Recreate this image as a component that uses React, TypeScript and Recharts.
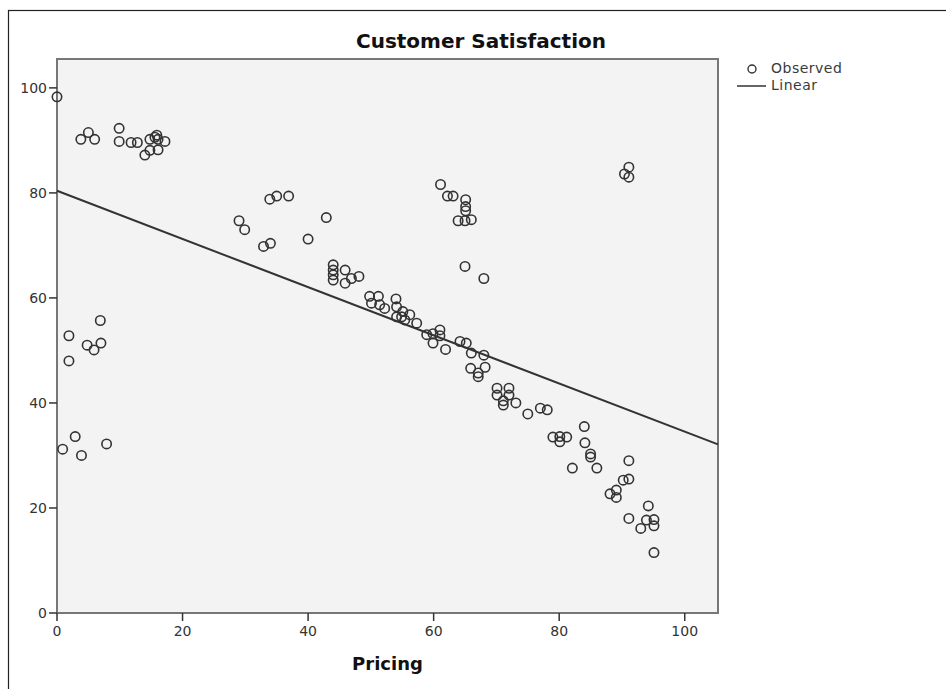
import { ScatterChart, Scatter, XAxis, YAxis, ReferenceArea, Legend, Label } from 'recharts';

const pricing = [
  0, 3.8, 5.0, 6.0, 9.9, 9.9, 11.8, 12.8, 14.0, 14.8, 16.1, 14.8, 15.9, 16.1, 17.2, 15.6,
  6.9, 1.9, 4.8, 7.0, 5.9, 1.9, 2.9, 0.9, 3.9, 7.9,
  29.0, 29.9, 33.9, 35.0, 36.9, 32.9, 34.0, 40.0, 42.9,
  44.0, 44.0, 44.0, 44.0, 45.9, 45.9, 46.9, 48.1,
  49.8, 51.2, 50.1, 51.4, 52.2, 54.0, 54.1, 55.1, 54.1, 54.9, 56.2, 55.4, 57.3,
  61.1, 62.2, 63.1, 65.1, 65.1, 65.1, 63.9, 65.0, 66.0, 65.0, 68.0,
  58.9, 59.9, 61.0, 59.9, 61.0, 61.9, 64.2, 65.2, 66.0, 68.0, 65.9, 67.1, 68.2, 67.1,
  70.1, 72.0, 70.1, 72.0, 71.1, 71.1, 73.1, 75.0, 77.0, 78.1, 84.0,
  79.0, 80.1, 81.2, 80.1, 84.1, 85.0, 85.0, 82.1, 86.0, 91.1, 90.2, 91.1, 88.1, 89.1, 89.1,
  94.2, 91.1, 93.0, 93.9, 95.1, 95.1, 95.1,
  90.4, 91.1, 91.1,
];
const satisfaction = [
  98.3, 90.2, 91.5, 90.2, 92.3, 89.8, 89.6, 89.6, 87.2, 88.1, 88.2, 90.2, 91.0, 90.2, 89.8, 90.6,
  55.7, 52.8, 51.0, 51.4, 50.1, 48.0, 33.6, 31.2, 30.0, 32.2,
  74.7, 73.0, 78.8, 79.4, 79.4, 69.8, 70.4, 71.2, 75.3,
  66.3, 65.3, 64.4, 63.4, 65.3, 62.8, 63.7, 64.1,
  60.3, 60.3, 59.0, 58.7, 58.0, 59.8, 58.3, 57.4, 56.4, 56.4, 56.8, 55.8, 55.2,
  81.6, 79.4, 79.4, 78.7, 77.4, 76.6, 74.7, 74.7, 74.9, 66.0, 63.7,
  53.0, 53.2, 53.9, 51.4, 52.8, 50.2, 51.7, 51.4, 49.5, 49.1, 46.6, 45.7, 46.8, 45.0,
  42.8, 42.8, 41.5, 41.5, 39.6, 40.4, 40.0, 37.9, 39.0, 38.7, 35.5,
  33.5, 33.6, 33.5, 32.6, 32.4, 30.3, 29.7, 27.6, 27.6, 29.0, 25.3, 25.5, 22.7, 23.4, 22.0,
  20.4, 18.0, 16.1, 17.7, 17.8, 16.6, 11.5,
  83.6, 84.9, 83.0,
];

// Linear fit endpoints
const fitX = [0, 105.3];
const fitY = [80.4, 32.1];

const xTicks = [0, 20, 40, 60, 80, 100];
const yTicks = [0, 20, 40, 60, 80, 100];

const observed = pricing.map((x, i) => ({ x, y: satisfaction[i] }));
const linear = fitX.map((x, i) => ({ x, y: fitY[i] }));

const FONT = '"DejaVu Sans", sans-serif';

const RingShape = (props: any) => {
  const { cx, cy } = props;
  return <circle cx={cx} cy={cy} r={4.7} fill="none" stroke="#333" strokeWidth={1.6} />;
};

const LegendBox = () => (
  <div style={{ fontFamily: FONT, fontSize: 14, color: '#3a3a3a', letterSpacing: 0.5, lineHeight: '17px' }}>
    <div style={{ display: 'flex', alignItems: 'center' }}>
      <svg width={34} height={17}>
        <circle cx={15} cy={9} r={4} fill="none" stroke="#333" strokeWidth={1.4} />
      </svg>
      <span>Observed</span>
    </div>
    <div style={{ display: 'flex', alignItems: 'center' }}>
      <svg width={34} height={17}>
        <line x1={0} y1={9} x2={29} y2={9} stroke="#333" strokeWidth={1.5} />
      </svg>
      <span>Linear</span>
    </div>
  </div>
);

export default function App() {
  return (
    <div style={{ position: 'absolute', left: 0, top: 0, width: 946, height: 689, background: '#fff' }}>
      <ScatterChart width={946} height={689} margin={{ top: 59, right: 228, bottom: 0, left: 0 }}>
        <rect x={8.5} y={10.5} width={1200} height={1200} fill="none" stroke="#222" strokeWidth={1.2} />
        <text x={481} y={48} textAnchor="middle" fontFamily={FONT} fontSize={20} fontWeight="bold" fill="#111">
          Customer Satisfaction
        </text>
        <ReferenceArea x1={0} x2={105.3} y1={0} y2={105.5} fill="#f3f3f3" fillOpacity={1} stroke="#777" strokeWidth={2} />
        <XAxis
          type="number"
          dataKey="x"
          domain={[0, 105.3]}
          ticks={xTicks}
          height={76}
          tickSize={8}
          tickMargin={5}
          axisLine={{ stroke: '#777', strokeWidth: 2 }}
          tickLine={{ stroke: '#333', strokeWidth: 1.5 }}
          tick={{ fill: '#333', fontSize: 14, fontFamily: FONT }}
        >
          <Label value="Pricing" position="insideBottom" offset={19} fill="#111" fontSize={18} fontWeight="bold" fontFamily={FONT} />
        </XAxis>
        <YAxis
          type="number"
          dataKey="y"
          domain={[0, 105.5]}
          ticks={yTicks}
          width={57}
          tickSize={8}
          tickMargin={2}
          axisLine={{ stroke: '#777', strokeWidth: 2 }}
          tickLine={{ stroke: '#333', strokeWidth: 1.5 }}
          tick={{ fill: '#333', fontSize: 14, fontFamily: FONT }}
        />
        <Legend
          layout="horizontal"
          align="center"
          verticalAlign="middle"
          content={() => <LegendBox />}
          wrapperStyle={{ left: 737, top: 60, width: 'auto' }}
        />
        <Scatter name="Observed" data={observed} shape={RingShape} isAnimationActive={false} />
        <Scatter
          name="Linear"
          data={linear}
          line={{ stroke: '#333', strokeWidth: 2 }}
          shape={() => <g />}
          isAnimationActive={false}
        />
      </ScatterChart>
    </div>
  );
}
